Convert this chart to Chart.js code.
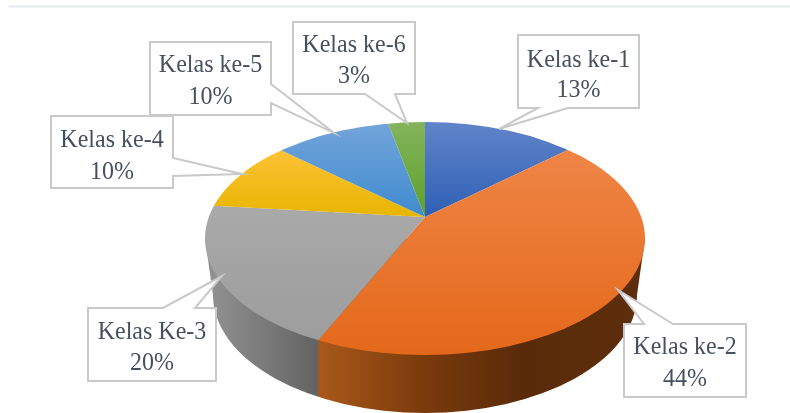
<!DOCTYPE html>
<html>
<head>
<meta charset="utf-8">
<title>Kelas</title>
<script src="https://cdn.jsdelivr.net/npm/chart.js@4"></script>
<style>
    html, body { margin: 0; padding: 0; background: #fff; overflow: hidden; }
    #wrap { position: relative; width: 790px; height: 413px; }
    #pie { filter: blur(0.45px); }
</style>
</head>
<body>
<div id="wrap"><canvas id="pie" width="790" height="413"></canvas></div>
<script>
// Chart data; the printed labels are these rounded
const categories = ['Kelas ke-1', 'Kelas ke-2', 'Kelas Ke-3', 'Kelas ke-4', 'Kelas ke-5', 'Kelas ke-6'];
const percentages = [13, 43.5, 20.2, 10.2, 10, 3.1];

// Slice colours, top and bottom of each slice's gradient
const topColors = ['#6184c9', '#ef8546', '#a9a9a9', '#fcc236', '#72a4da', '#84b45c'];
const bottomColors = ['#2e5fb5', '#e4681a', '#9d9d9d', '#e8b500', '#3f8bce', '#5da02c'];
const gradientTops = [122, 150, 207, 150, 124, 122];
const gradientBottoms = [217, 355, 340, 217, 217, 217];

// Page geometry of the tilted pie
const apex = { x: 425, y: 217 };
const topFace = { x: 425, y: 238.5, rx: 220, ry: 116.5 };
const bottomFace = { x: 425, y: 295, rx: 212, ry: 118 };
const tilt = 0.5;
const zoom = 1.5;

// Callouts: box, tail base, tail tip and text baselines, one per category
const callouts = [
    { box: [518, 35, 639, 108], base: [[538, 108], [568, 108]], tip: [499, 129], lines: [66.5, 96.5] },
    { box: [624, 324, 746, 397], base: [[644, 324], [673, 324]], tip: [618, 290], lines: [354, 386] },
    { box: [88, 308, 216, 381], base: [[163, 308], [195, 308]], tip: [222, 276], lines: [339, 370] },
    { box: [51, 116, 173, 188], base: [[173, 158], [173, 176]], tip: [242, 174], lines: [146.5, 179] },
    { box: [150, 42, 271, 115], base: [[271, 84], [271, 103]], tip: [334, 133], lines: [71.5, 104] },
    { box: [293, 22, 415, 94], base: [[365, 94], [395, 94]], tip: [407, 123], lines: [52, 83] }
];

// Convert a page y to the chart's own y, before the tilt transform
function toChartY(chart, y) {
    const centerY = (chart.chartArea.top + chart.chartArea.bottom) / 2;
    return centerY + (y - apex.y) / (zoom * tilt);
}

function sliceGradient(context) {
    const chart = context.chart;
    const i = context.dataIndex;
    if (!chart.chartArea) return topColors[i];
    const g = chart.ctx.createLinearGradient(0, toChartY(chart, gradientTops[i]), 0, toChartY(chart, gradientBottoms[i]));
    g.addColorStop(0, topColors[i]);
    g.addColorStop(1, bottomColors[i]);
    return g;
}

// Where a slice boundary meets the rim of the top face
function rimPoint(angle) {
    const dx = Math.cos(angle);
    const dy = Math.sin(angle) * tilt;
    const oy = apex.y - topFace.y;
    const a = (dx * dx) / (topFace.rx * topFace.rx) + (dy * dy) / (topFace.ry * topFace.ry);
    const b = (2 * oy * dy) / (topFace.ry * topFace.ry);
    const c = (oy * oy) / (topFace.ry * topFace.ry) - 1;
    const t = (-b + Math.sqrt(b * b - 4 * a * c)) / (2 * a);
    return { x: apex.x + dx * t, y: apex.y + dy * t };
}

function drawWall(chart) {
    const ctx = chart.ctx;
    const split = rimPoint(chart.getDatasetMeta(0).data[1].endAngle).x;
    const left = topFace.x - topFace.rx;
    const width = topFace.rx * 2;
    const stop = (x) => (x - left) / width;
    const g = ctx.createLinearGradient(left, 0, left + width, 0);
    g.addColorStop(0, '#939393');
    g.addColorStop(stop(split) - 0.001, '#636363');
    g.addColorStop(stop(split) + 0.001, '#a9591a');
    g.addColorStop(stop(425), '#7a3a0c');
    g.addColorStop(stop(520), '#5a2b0a');
    g.addColorStop(1, '#5e2e0c');

    ctx.save();
    ctx.fillStyle = g;
    ctx.beginPath();
    ctx.moveTo(topFace.x + topFace.rx, topFace.y);
    ctx.lineTo(bottomFace.x + bottomFace.rx, bottomFace.y);
    ctx.ellipse(bottomFace.x, bottomFace.y, bottomFace.rx, bottomFace.ry, 0, 0, Math.PI);
    ctx.lineTo(topFace.x - topFace.rx, topFace.y);
    ctx.closePath();
    ctx.fill();
    ctx.restore();
}

function drawCallout(ctx, c, i) {
    const [x0, y0, x1, y1] = c.box;
    ctx.beginPath();
    ctx.moveTo(x0, y0);
    // walk the box clockwise and break out for the tail on the side it sits on
    const corners = [[x1, y0], [x1, y1], [x0, y1], [x0, y0]];
    const onSide = [
        c.base[0][1] === y0 && c.base[1][1] === y0,
        c.base[0][0] === x1 && c.base[1][0] === x1,
        c.base[0][1] === y1 && c.base[1][1] === y1,
        c.base[0][0] === x0 && c.base[1][0] === x0
    ];
    corners.forEach((corner, side) => {
        if (onSide[side]) {
            const pts = side === 0 || side === 1 ? c.base : [c.base[1], c.base[0]];
            ctx.lineTo(pts[0][0], pts[0][1]);
            ctx.lineTo(c.tip[0], c.tip[1]);
            ctx.lineTo(pts[1][0], pts[1][1]);
        }
        ctx.lineTo(corner[0], corner[1]);
    });
    ctx.closePath();
    ctx.fillStyle = '#ffffff';
    ctx.fill();
    ctx.strokeStyle = '#c9c9c9';
    ctx.lineWidth = 2;
    ctx.stroke();

    ctx.fillStyle = '#47505f';
    ctx.font = '24px "Liberation Serif"';
    ctx.textAlign = 'center';
    ctx.textBaseline = 'alphabetic';
    const mid = (x0 + x1) / 2;
    // the source text is a little taller than it is wide
    const stretch = 1.08;
    ctx.save();
    ctx.scale(1, stretch);
    ctx.fillText(categories[i], mid, c.lines[0] / stretch);
    ctx.fillText(Math.round(percentages[i]) + '%', mid, c.lines[1] / stretch);
    ctx.restore();
}

const tiltedPie = {
    id: 'tiltedPie',
    beforeDatasetsDraw(chart) {
        const ctx = chart.ctx;
        const area = chart.chartArea;
        // rule at the top of the page
        ctx.fillStyle = '#e4e9f0';
        ctx.fillRect(9, 5.5, 781, 2);
        drawWall(chart);
        ctx.save();
        ctx.beginPath();
        ctx.ellipse(topFace.x, topFace.y, topFace.rx, topFace.ry, 0, 0, Math.PI * 2);
        ctx.clip();
        ctx.translate(apex.x, apex.y);
        ctx.scale(zoom, zoom * tilt);
        ctx.translate(-(area.left + area.right) / 2, -(area.top + area.bottom) / 2);
    },
    afterDatasetsDraw(chart) {
        const ctx = chart.ctx;
        ctx.restore();
        ctx.save();
        callouts.forEach((c, i) => drawCallout(ctx, c, i));
        ctx.restore();
    }
};

new Chart(document.getElementById('pie').getContext('2d'), {
    type: 'pie',
    data: {
        labels: categories,
        datasets: [{
            data: percentages,
            backgroundColor: sliceGradient,
            borderWidth: 0
        }]
    },
    options: {
        responsive: false,
        animation: false,
        events: [],
        layout: { padding: 0 },
        plugins: {
            legend: { display: false },
            tooltip: { enabled: false }
        }
    },
    plugins: [tiltedPie]
});
</script>
</body>
</html>
